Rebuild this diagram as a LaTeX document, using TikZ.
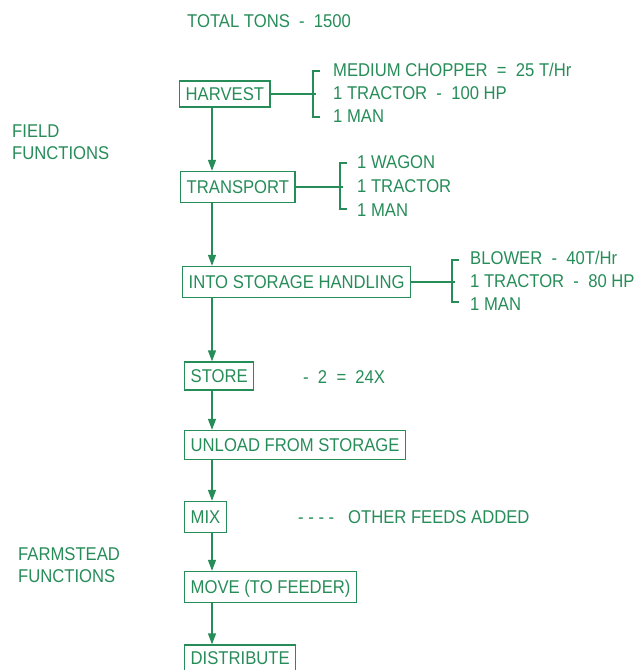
\documentclass[tikz,border=0pt]{standalone}
\usepackage{fontspec}
\setmainfont{Liberation Sans}[FakeStretch=0.9]
\usetikzlibrary{arrows.meta}
\definecolor{fg}{RGB}{38,140,88}
\tikzset{
  lbl/.style={anchor=west, text=fg, font=\fontsize{18.5}{21}\selectfont, inner sep=0pt, text height=13.5pt, text depth=0pt},
  box/.style={lbl, draw=fg, line width=1.4pt, inner xsep=6pt, inner ysep=0pt},
  flow/.style={draw=fg, line width=1.4pt, -{Triangle[width=8pt,length=11pt]}},
  brk/.style={draw=fg, line width=1.4pt}
}
\begin{document}
\begin{tikzpicture}[x=1pt,y=-1pt]
\useasboundingbox (0,0) rectangle (639,670);
% titles
\node[lbl] (total) at (187,21) {TOTAL TONS \ - \ 1500};
\node[lbl, align=left, text height=, text depth=] (field) at (12,142) {FIELD\\[1pt]FUNCTIONS};
\node[lbl, align=left, text height=, text depth=] (farm) at (18,565) {FARMSTEAD\\[1pt]FUNCTIONS};
% boxes
\node[box, minimum height=26pt] (harvest) at (179,94) {HARVEST};
\node[box, minimum height=31pt] (transport) at (180,187) {TRANSPORT};
\node[box, minimum height=31pt] (into) at (182,282) {INTO STORAGE HANDLING};
\node[box, minimum height=28pt] (store) at (184,376) {STORE};
\node[box, minimum height=29pt] (unload) at (184,445) {UNLOAD FROM STORAGE};
\node[box, minimum height=31pt] (mix) at (184,517) {MIX};
\node[box, minimum height=31pt] (move) at (184,587) {MOVE (TO FEEDER)};
\node[box, minimum height=26pt] (dist) at (184,658) {DISTRIBUTE};
% side texts
\node[lbl] (storetxt) at (303,377) {- \ 2 \ = \ 24X};
\node[lbl] (mixtxt) at (298,517) {- - - - \ \ OTHER FEEDS ADDED};
% spine
\coordinate (sp) at (212,0);
\draw[flow] (harvest.south -| sp) -- (transport.north -| sp);
\draw[flow] (transport.south -| sp) -- (into.north -| sp);
\draw[flow] (into.south -| sp) -- (store.north -| sp);
\draw[flow] (store.south -| sp) -- (unload.north -| sp);
\draw[flow] (unload.south -| sp) -- (mix.north -| sp);
\draw[flow] (mix.south -| sp) -- (move.north -| sp);
\draw[flow] (move.south -| sp) -- (dist.north -| sp);
% harvest bracket
\coordinate (hbt) at (313,71);
\coordinate (hbb) at (313,117);
\draw[brk] (harvest.east) -- ([xshift=3pt]harvest.east -| hbt);
\draw[brk] ([xshift=7pt]hbt) -- (hbt) -- (hbb) -- ([xshift=7pt]hbb);
\node[lbl] (h1) at (333,70) {MEDIUM CHOPPER \ = \ 25 T/Hr};
\node[lbl] (h2) at (333,93) {1 TRACTOR \ - \ 100 HP};
\node[lbl] (h3) at (333,116) {1 MAN};
% transport bracket
\coordinate (tbt) at (340,163);
\coordinate (tbb) at (340,209);
\draw[brk] (transport.east) -- ([xshift=3pt]transport.east -| tbt);
\draw[brk] ([xshift=7pt]tbt) -- (tbt) -- (tbb) -- ([xshift=7pt]tbb);
\node[lbl] (t1) at (357,162) {1 WAGON};
\node[lbl] (t2) at (357,186) {1 TRACTOR};
\node[lbl] (t3) at (357,210) {1 MAN};
% into storage bracket
\coordinate (ibt) at (452,260);
\coordinate (ibb) at (452,302);
\draw[brk] (into.east) -- ([xshift=3pt]into.east -| ibt);
\draw[brk] ([xshift=7pt]ibt) -- (ibt) -- (ibb) -- ([xshift=7pt]ibb);
\node[lbl] (i1) at (470,258) {BLOWER \ - \ 40T/Hr};
\node[lbl] (i2) at (470,281) {1 TRACTOR \ - \ 80 HP};
\node[lbl] (i3) at (470,304) {1 MAN};
\end{tikzpicture}
\end{document}
